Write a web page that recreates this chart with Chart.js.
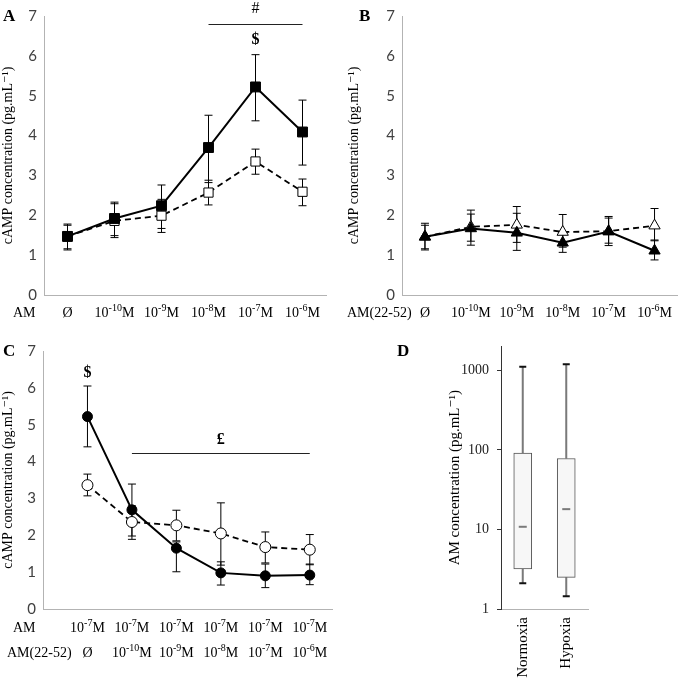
<!DOCTYPE html>
<html>
<head>
<meta charset="utf-8">
<script src="https://cdn.jsdelivr.net/npm/chart.js@4.4.1/dist/chart.umd.min.js"></script>
<style>
  body { margin: 0; background: #fff; }
  #wrap { position: relative; width: 685px; height: 682px; }
  .panel { position: absolute; }
  .lbl { position: absolute; font-family: "Liberation Serif", "DejaVu Serif", serif; font-size: 14px; line-height: 16px; color: #000; white-space: nowrap; }
  .letter { font-weight: bold; font-size: 17px; line-height: 18px; }
</style>
</head>
<body>
<div id="wrap">
  <div class="panel" style="left:0;top:0"><canvas id="chartA" width="340" height="330"></canvas></div>
  <div class="panel" style="left:340px;top:0"><canvas id="chartB" width="345" height="330"></canvas></div>
  <div class="panel" style="left:0;top:330px"><canvas id="chartC" width="340" height="352"></canvas></div>
  <div class="panel" style="left:340px;top:330px"><canvas id="chartD" width="345" height="352"></canvas></div>

  <div class="lbl letter" style="left:3px;top:7px">A</div>
  <div class="lbl letter" style="left:359px;top:7px">B</div>
  <div class="lbl letter" style="left:3px;top:342px">C</div>
  <div class="lbl letter" style="left:397px;top:342px">D</div>

  <div class="lbl" style="left:13px;top:305px">AM</div>
  <div class="lbl" style="left:347px;top:305px">AM(22-52)</div>
  <div class="lbl" style="left:13px;top:620px">AM</div>
  <div class="lbl" style="left:7px;top:645px">AM(22-52)</div>
</div>

<script>
// ---- data ----
const doseLabels = ["Ø", "10⁻¹⁰M", "10⁻⁹M", "10⁻⁸M", "10⁻⁷M", "10⁻⁶M"];

// panel A: AM alone (filled = solid line, open = dashed line)
const aFilled   = [1.47, 1.92, 2.24, 3.70, 5.22, 4.09];
const aFilledLo = [1.16, 1.49, 1.67, 2.82, 4.37, 3.26];
const aFilledHi = [1.78, 2.33, 2.76, 4.51, 6.03, 4.89];
const aOpen     = [1.47, 1.86, 1.99, 2.57, 3.35, 2.59];
const aOpenLo   = [1.13, 1.44, 1.57, 2.26, 3.03, 2.24];
const aOpenHi   = [1.75, 2.29, 2.40, 2.88, 3.66, 2.91];

// panel B: AM(22-52) alone
const bFilled   = [1.46, 1.67, 1.56, 1.31, 1.59, 1.11];
const bFilledLo = [1.16, 1.25, 1.12, 1.07, 1.24, 0.88];
const bFilledHi = [1.80, 2.13, 2.05, 1.58, 1.97, 1.38];
const bOpen     = [1.46, 1.71, 1.76, 1.58, 1.60, 1.74];
const bOpenLo   = [1.13, 1.35, 1.32, 1.20, 1.30, 1.36];
const bOpenHi   = [1.75, 2.03, 2.22, 2.02, 1.93, 2.17];

// panel C: AM 10-7M + AM(22-52)
const cAmRow     = ["10⁻⁷M", "10⁻⁷M", "10⁻⁷M", "10⁻⁷M", "10⁻⁷M", "10⁻⁷M"];
const cAntagRow  = ["Ø", "10⁻¹⁰M", "10⁻⁹M", "10⁻⁸M", "10⁻⁷M", "10⁻⁶M"];
const cFilled   = [5.22, 2.69, 1.65, 0.98, 0.90, 0.92];
const cFilledLo = [4.40, 1.98, 1.01, 0.65, 0.58, 0.66];
const cFilledHi = [6.05, 3.39, 1.82, 1.28, 1.22, 1.22];
const cOpen     = [3.36, 2.36, 2.27, 2.05, 1.68, 1.61];
const cOpenLo   = [3.07, 1.89, 1.85, 1.19, 1.25, 1.20];
const cOpenHi   = [3.66, 2.80, 2.68, 2.88, 2.09, 2.02];

// panel D: box plot of AM concentration
const boxGroups = ["Normoxia", "Hypoxia"];
const boxMin    = [2.1, 1.45];
const boxQ1     = [3.2, 2.5];
const boxMedian = [10.8, 18];
const boxQ3     = [91, 78];
const boxMax    = [1110, 1190];

// significance marks: [fromIndex, toIndex, yValue] and [xIndex, yValue, text]
const aBrackets = [[3, 5, 6.81]];
const aSigns    = [[4, 7.18, "#"], [4, 6.41, "$"]];
const cBrackets = [[1, 5, 4.22]];
const cSigns    = [[0, 6.40, "$"], [3, 4.60, "£"]];

const SERIF = "'Liberation Serif', 'DejaVu Serif', serif";
const SANS = "Lato, 'Liberation Sans', sans-serif";
const SUP_CHARS = "⁻⁰¹²³⁴⁵⁶⁷⁸⁹";
const NORMAL_CHARS = "-0123456789";

// split "10⁻⁹M" into normal / superscript runs
function richParts(text) {
  const parts = [];
  for (const ch of text) {
    const k = SUP_CHARS.indexOf(ch);
    const sup = k >= 0;
    const c = sup ? NORMAL_CHARS[k] : ch;
    const last = parts[parts.length - 1];
    if (last && last.sup === sup) last.t += c; else parts.push({ t: c, sup: sup });
  }
  return parts;
}

// draws the x tick labels with real superscripts, one row per label line
function richTicks(rowOffsets) {
  return {
    id: "richTicks",
    afterDraw(chart) {
      const ctx = chart.ctx, xs = chart.scales.x;
      ctx.save();
      ctx.fillStyle = "#000";
      ctx.textBaseline = "middle";
      ctx.textAlign = "left";
      xs.ticks.forEach((tick, i) => {
        const lines = Array.isArray(tick.label) ? tick.label : [tick.label];
        const px = xs.getPixelForTick(i);
        lines.forEach((line, li) => {
          const parts = richParts(String(line));
          let w = 0;
          parts.forEach(p => {
            ctx.font = (p.sup ? "10px " : "14px ") + SERIF;
            p.w = ctx.measureText(p.t).width;
            w += p.w;
          });
          let x = px - w / 2;
          const y = xs.top + rowOffsets[li];
          parts.forEach(p => {
            ctx.font = (p.sup ? "10px " : "14px ") + SERIF;
            ctx.fillText(p.t, x, p.sup ? y - 5 : y);
            x += p.w;
          });
        });
      });
      ctx.restore();
    }
  };
}

// error bars from dataset.errLo / dataset.errHi, through the y scale
const errorBars = {
  id: "errorBars",
  beforeDatasetsDraw(chart) {
    const ctx = chart.ctx;
    const y = chart.scales.y;
    ctx.save();
    ctx.strokeStyle = "#000";
    ctx.lineWidth = 1;
    chart.data.datasets.forEach((ds, di) => {
      if (!ds.errLo) return;
      chart.getDatasetMeta(di).data.forEach((pt, i) => {
        const y1 = y.getPixelForValue(ds.errLo[i]);
        const y2 = y.getPixelForValue(ds.errHi[i]);
        ctx.beginPath();
        ctx.moveTo(pt.x, y1); ctx.lineTo(pt.x, y2);
        ctx.moveTo(pt.x - 4, y1); ctx.lineTo(pt.x + 4, y1);
        ctx.moveTo(pt.x - 4, y2); ctx.lineTo(pt.x + 4, y2);
        ctx.stroke();
      });
    });
    ctx.restore();
  }
};

// brackets and symbols above the lines
function sigMarks(brackets, signs) {
  return {
    id: "sigMarks",
    afterDatasetsDraw(chart) {
      const ctx = chart.ctx;
      const xs = chart.scales.x, ys = chart.scales.y;
      ctx.save();
      ctx.strokeStyle = "#222";
      ctx.lineWidth = 1;
      brackets.forEach(b => {
        const yy = Math.round(ys.getPixelForValue(b[2])) + 0.5;
        ctx.beginPath();
        ctx.moveTo(xs.getPixelForValue(b[0]), yy);
        ctx.lineTo(xs.getPixelForValue(b[1]), yy);
        ctx.stroke();
      });
      ctx.fillStyle = "#000";
      ctx.textAlign = "center";
      ctx.textBaseline = "middle";
      signs.forEach(s => {
        ctx.font = (s[2] === "#" ? "" : "bold ") + "16px " + SERIF;
        ctx.fillText(s[2], xs.getPixelForValue(s[0]), ys.getPixelForValue(s[1]));
      });
      ctx.restore();
    }
  };
}

function lineDataset(label, values, lo, hi, style, filled, dashed, radius) {
  return {
    label: label,
    data: values,
    errLo: lo,
    errHi: hi,
    borderColor: "#000",
    borderWidth: dashed ? 1.8 : 2,
    borderDash: dashed ? [6, 4] : [],
    pointStyle: style,
    pointRadius: radius,
    pointBackgroundColor: filled ? "#000" : "#fff",
    pointBorderColor: "#000",
    pointBorderWidth: 1,
    tension: 0,
    fill: false
  };
}

function campYAxis(width) {
  return {
    min: 0,
    max: 7,
    ticks: { stepSize: 1, color: "#404040", padding: 7, font: { family: SANS, size: 15 } },
    grid: { display: false, drawTicks: false },
    border: { color: "#b3b3b3" },
    title: { display: true, text: "cAMP concentration (pg.mL⁻¹)", color: "#000", padding: 0,
             font: { family: SERIF, size: 14 } },
    afterFit: s => { s.width = width; }
  };
}

function baseOptions(padding, xAxis, yAxis) {
  return {
    responsive: false,
    animation: false,
    events: [],
    layout: { padding: padding },
    plugins: { legend: { display: false }, tooltip: { enabled: false } },
    scales: { x: xAxis, y: yAxis }
  };
}

// tick text itself is drawn by richTicks, so the built-in labels are transparent
function catXAxis(height) {
  return {
    offset: true,
    ticks: { color: "rgba(0,0,0,0)", padding: 10, autoSkip: false, maxRotation: 0, font: { family: SERIF, size: 14 } },
    grid: { display: false, drawTicks: false },
    border: { color: "#b3b3b3" },
    afterFit: s => { s.height = height; }
  };
}

// ---- panel A ----
new Chart(document.getElementById("chartA"), {
  type: "line",
  data: {
    labels: doseLabels,
    datasets: [
      lineDataset("AM filled", aFilled, aFilledLo, aFilledHi, "rect", true, false, 7),
      lineDataset("AM open", aOpen, aOpenLo, aOpenHi, "rect", false, true, 6.5)
    ]
  },
  options: baseOptions({ top: 16, right: 14, left: 0, bottom: 0 }, catXAxis(35), campYAxis(44)),
  plugins: [errorBars, sigMarks(aBrackets, aSigns), richTicks([18])]
});

// ---- panel B ----
new Chart(document.getElementById("chartB"), {
  type: "line",
  data: {
    labels: doseLabels,
    datasets: [
      lineDataset("AM(22-52) filled", bFilled, bFilledLo, bFilledHi, "triangle", true, false, 6.5),
      lineDataset("AM(22-52) open", bOpen, bOpenLo, bOpenHi, "triangle", false, true, 6.5)
    ]
  },
  options: baseOptions({ top: 16, right: 1, left: 6, bottom: 0 }, catXAxis(35), campYAxis(56)),
  plugins: [errorBars, richTicks([18])]
});

// ---- panel C ----
const cX = {
  type: "linear",
  min: -1,
  max: 5.5,
  afterBuildTicks: s => { s.ticks = cAmRow.map((_, i) => ({ value: i })); },
  ticks: {
    color: "rgba(0,0,0,0)", padding: 6, autoSkip: false, maxRotation: 0,
    font: { family: SERIF, size: 14, lineHeight: "25px" },
    callback: v => [cAmRow[v], cAntagRow[v]]
  },
  grid: { display: false, drawTicks: false },
  border: { color: "#b3b3b3" },
  afterFit: s => { s.height = 73; }
};
new Chart(document.getElementById("chartC"), {
  type: "line",
  data: {
    datasets: [
      lineDataset("filled", cFilled.map((v, i) => ({ x: i, y: v })), cFilledLo, cFilledHi, "circle", true, false, 5),
      lineDataset("open", cOpen.map((v, i) => ({ x: i, y: v })), cOpenLo, cOpenHi, "circle", false, true, 5.5)
    ]
  },
  options: baseOptions({ top: 21, right: 8, left: 0, bottom: 0 }, cX, campYAxis(43)),
  plugins: [errorBars, sigMarks(cBrackets, cSigns), richTicks([19, 44])]
});

// ---- panel D: box plot (floating bars + whiskers) ----
const boxWhiskers = {
  id: "boxWhiskers",
  beforeDatasetsDraw(chart) {
    const ctx = chart.ctx, y = chart.scales.y;
    const bars = chart.getDatasetMeta(0).data;
    ctx.save();
    bars.forEach((bar, i) => {
      const yMax = y.getPixelForValue(boxMax[i]);
      const yMin = y.getPixelForValue(boxMin[i]);
      ctx.strokeStyle = "#7a7a7a";
      ctx.lineWidth = 2;
      ctx.beginPath();
      ctx.moveTo(bar.x, yMax); ctx.lineTo(bar.x, y.getPixelForValue(boxQ3[i]));
      ctx.moveTo(bar.x, y.getPixelForValue(boxQ1[i])); ctx.lineTo(bar.x, yMin);
      ctx.stroke();
      ctx.strokeStyle = "#111";
      ctx.beginPath();
      ctx.moveTo(bar.x - 3.5, yMax); ctx.lineTo(bar.x + 3.5, yMax);
      ctx.moveTo(bar.x - 3.5, yMin); ctx.lineTo(bar.x + 3.5, yMin);
      ctx.stroke();
    });
    ctx.restore();
  },
  afterDatasetsDraw(chart) {
    const ctx = chart.ctx, y = chart.scales.y;
    ctx.save();
    ctx.strokeStyle = "#7a7a7a";
    ctx.lineWidth = 2;
    chart.getDatasetMeta(0).data.forEach((bar, i) => {
      const ym = y.getPixelForValue(boxMedian[i]);
      ctx.beginPath();
      ctx.moveTo(bar.x - 4, ym); ctx.lineTo(bar.x + 4, ym);
      ctx.stroke();
    });
    ctx.restore();
  }
};

new Chart(document.getElementById("chartD"), {
  type: "bar",
  data: {
    labels: boxGroups,
    datasets: [{
      label: "AM",
      data: boxQ1.map((q, i) => [q, boxQ3[i]]),
      backgroundColor: "#f7f7f7",
      borderColor: "#555",
      borderWidth: 1,
      borderSkipped: false,
      barThickness: 18
    }]
  },
  options: baseOptions({ top: 7, right: 97, left: 106, bottom: 0 },
    {
      ticks: { color: "#000", padding: 8, autoSkip: false, minRotation: 90, maxRotation: 90,
               font: { family: SERIF, size: 15 } },
      grid: { display: false, drawTicks: false },
      border: { color: "#b3b3b3" },
      afterFit: s => { s.height = 73; }
    },
    {
      type: "logarithmic",
      min: 1,
      max: 2000,
      afterBuildTicks: s => { s.ticks = [1, 10, 100, 1000].map(v => ({ value: v })); },
      ticks: { color: "#222", padding: 8, font: { family: SERIF, size: 14 }, callback: v => String(v) },
      grid: { drawOnChartArea: false, drawTicks: true, tickLength: 4, color: "#333" },
      border: { color: "#333" },
      title: { display: true, text: "AM concentration (pg.mL⁻¹)", color: "#000", padding: 0,
               font: { family: SERIF, size: 15 } },
      afterFit: s => { s.width = 55; }
    }),
  plugins: [boxWhiskers]
});
</script>
</body>
</html>
